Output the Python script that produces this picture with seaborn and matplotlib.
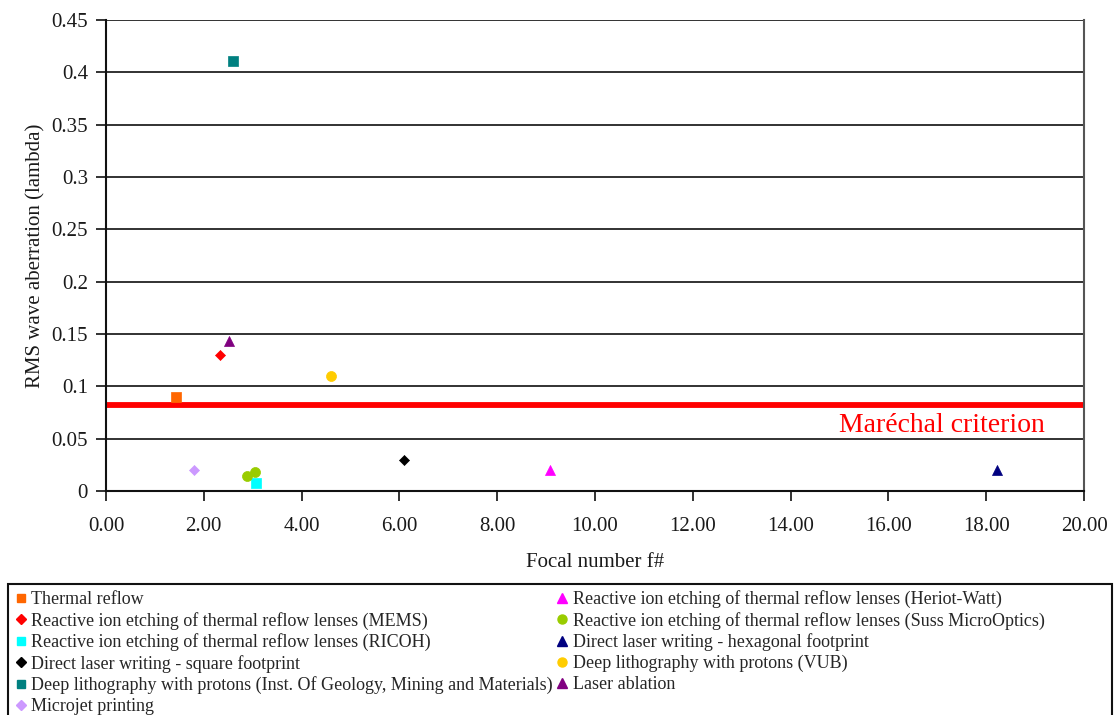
import matplotlib
matplotlib.use("Agg")
import matplotlib.pyplot as plt
from matplotlib.patches import Rectangle
import seaborn as sns
import pandas as pd

# Fabrication methods and their measured lens quality
methods = [
    "Thermal reflow",
    "Reactive ion etching of thermal reflow lenses (MEMS)",
    "Reactive ion etching of thermal reflow lenses (RICOH)",
    "Direct laser writing - square footprint",
    "Deep lithography with protons (Inst. Of Geology, Mining and Materials)",
    "Microjet printing",
    "Reactive ion etching of thermal reflow lenses (Heriot-Watt)",
    "Reactive ion etching of thermal reflow lenses (Suss MicroOptics)",
    "Direct laser writing - hexagonal footprint",
    "Deep lithography with protons (VUB)",
    "Laser ablation",
]
focal_number = [[1.43], [2.33], [3.07], [6.09], [2.60], [1.79],
                [9.07], [2.88, 3.05], [18.22], [4.61], [2.52]]
rms_aberration = [[0.090], [0.130], [0.008], [0.030], [0.411], [0.020],
                  [0.020], [0.014, 0.018], [0.020], [0.110], [0.143]]
colors = ["#FF6600", "#FF0000", "#00FFFF", "#000000", "#008080", "#CC99FF",
          "#FF00FF", "#99CC00", "#000080", "#FFCC00", "#800080"]
markers = ["s", "D", "s", "D", "s", "D", "^", "o", "^", "o", "^"]
marechal = 0.082

rows = []
for m, xs, ys in zip(methods, focal_number, rms_aberration):
    for x, y in zip(xs, ys):
        rows.append({"method": m, "f": x, "rms": y})
df = pd.DataFrame(rows)

sns.set_style("white")
plt.rcParams["font.family"] = ["Liberation Serif", "DejaVu Serif"]

fig = plt.figure(figsize=(11.15, 7.15), dpi=100)
ax = fig.add_axes([106 / 1115, 1 - 491 / 715, 978 / 1115, 471 / 715])

ax.axhline(marechal, color="#FF0000", lw=4.2, zorder=2)

sizes = {"s": 48, "D": 26, "^": 52, "o": 52}
for m, c, mk in zip(methods, colors, markers):
    sub = df[df["method"] == m]
    sns.scatterplot(data=sub, x="f", y="rms", ax=ax, color=c, marker=mk,
                    s=sizes[mk], edgecolor=c, linewidth=0.5, label=m,
                    legend=False, zorder=3)

ax.set_xlim(0, 20)
ax.set_ylim(0, 0.45)
ax.set_xticks([i * 2 for i in range(11)])
ax.set_xticklabels([f"{i * 2:.2f}" for i in range(11)])
yt = [i * 0.05 for i in range(10)]
ax.set_yticks(yt)
ax.set_yticklabels(["0", "0.05", "0.1", "0.15", "0.2", "0.25", "0.3",
                    "0.35", "0.4", "0.45"])
ax.yaxis.grid(True, color="#222222", lw=1.3)
ax.xaxis.grid(False)
ax.set_axisbelow(True)
for side in ["left", "bottom"]:
    ax.spines[side].set_color("#111111")
    ax.spines[side].set_linewidth(1.5)
ax.spines["top"].set_visible(False)
ax.spines["right"].set_color("#555555")
ax.spines["right"].set_linewidth(1.5)
ax.tick_params(axis="both", direction="out", length=7, width=1.3,
               color="#222222", labelsize=15, labelcolor="#1a1a1a")
ax.tick_params(axis="x", pad=12, bottom=True)
ax.tick_params(axis="y", left=True, pad=6)

ax.set_xlabel("Focal number f#", fontsize=15, labelpad=12, color="#1a1a1a")
ax.set_ylabel("RMS wave aberration (lambda)", fontsize=15, labelpad=4,
              color="#1a1a1a")

ax.text(17.1, 0.063, "Maréchal criterion", color="#FF0000", fontsize=20,
        ha="center", va="center")

# Legend box below the plot, running past the bottom edge of the figure
fig.patches.append(Rectangle((8 / 1115, -0.05), 1104 / 1115,
                             0.05 + 1 - 584 / 715, transform=fig.transFigure,
                             facecolor="white", edgecolor="#111111",
                             linewidth=1.5, zorder=0))

handles = [plt.Line2D([], [], ls="none", marker=mk, color=c, markersize=ms)
           for c, mk, ms in zip(colors, markers,
                                [6, 5, 6, 5, 6, 5, 6.5, 6.5, 6.5, 6.5, 6.5])]
leg = fig.legend(handles, methods, ncol=2, loc="upper left",
                 bbox_to_anchor=(8 / 1115, 1 - 584 / 715),
                 fontsize=13, frameon=False,
                 borderpad=0.35, labelspacing=0.2, handletextpad=0.25,
                 handlelength=0.7, borderaxespad=0, columnspacing=0.15)

fig.savefig("out.png", dpi=100)
